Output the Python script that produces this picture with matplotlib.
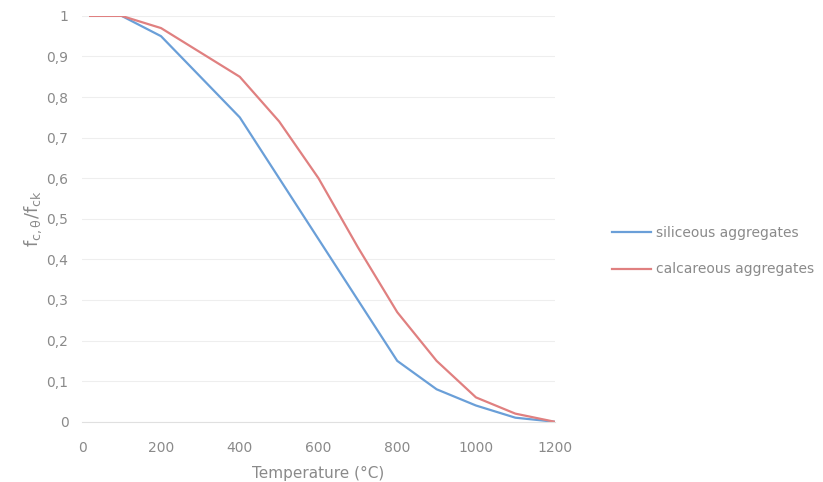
import matplotlib
matplotlib.use("Agg")
import matplotlib.pyplot as plt
from matplotlib.ticker import FuncFormatter

temps = [20, 100, 200, 300, 400, 500, 600, 700, 800, 900, 1000, 1100, 1200]
siliceous = [1.0, 1.0, 0.95, 0.85, 0.75, 0.60, 0.45, 0.30, 0.15, 0.08, 0.04, 0.01, 0.0]
calcareous = [1.0, 1.0, 0.97, 0.91, 0.85, 0.74, 0.60, 0.43, 0.27, 0.15, 0.06, 0.02, 0.0]
x_ticks = [0, 200, 400, 600, 800, 1000, 1200]
y_ticks = [0, 0.1, 0.2, 0.3, 0.4, 0.5, 0.6, 0.7, 0.8, 0.9, 1.0]

fig = plt.figure(figsize=(8.23, 4.82), dpi=100)
ax = fig.add_axes([0.1, 0.125, 0.574, 0.842])
grey = "#8a8a8a"
ax.plot(temps, siliceous, color="#6a9fd8", lw=1.6, label="siliceous aggregates")
ax.plot(temps, calcareous, color="#e08080", lw=1.6, label="calcareous aggregates")
ax.set_xlim(0, 1200)
ax.set_ylim(0, 1)
ax.set_xticks(x_ticks)
ax.set_yticks(y_ticks)
ax.yaxis.set_major_formatter(FuncFormatter(lambda v, p: "0" if v == 0 else ("1" if abs(v-1) < 1e-9 else f"{v:.1f}".replace(".", ","))))
ax.grid(axis="y", color="#eeeeee", lw=0.8)
for s in ["top", "right", "left"]:
    ax.spines[s].set_visible(False)
ax.spines["bottom"].set_color("#e0e0e0")
ax.tick_params(length=0, colors=grey, labelsize=10)
ax.tick_params(axis="y", pad=10)
ax.tick_params(axis="x", pad=14)
ax.set_xlabel("Temperature (°C)", color=grey, fontsize=11, labelpad=8)
ax.set_ylabel(r"$\mathregular{f_{c,\theta}/f_{ck}}$", color=grey, fontsize=13, labelpad=2)
ax.legend(loc="center left", bbox_to_anchor=(1.095, 0.42), frameon=False,
          fontsize=10, labelcolor=grey, handlelength=2.8, handletextpad=0.35, labelspacing=1.6)
fig.savefig("out.png", dpi=100)
